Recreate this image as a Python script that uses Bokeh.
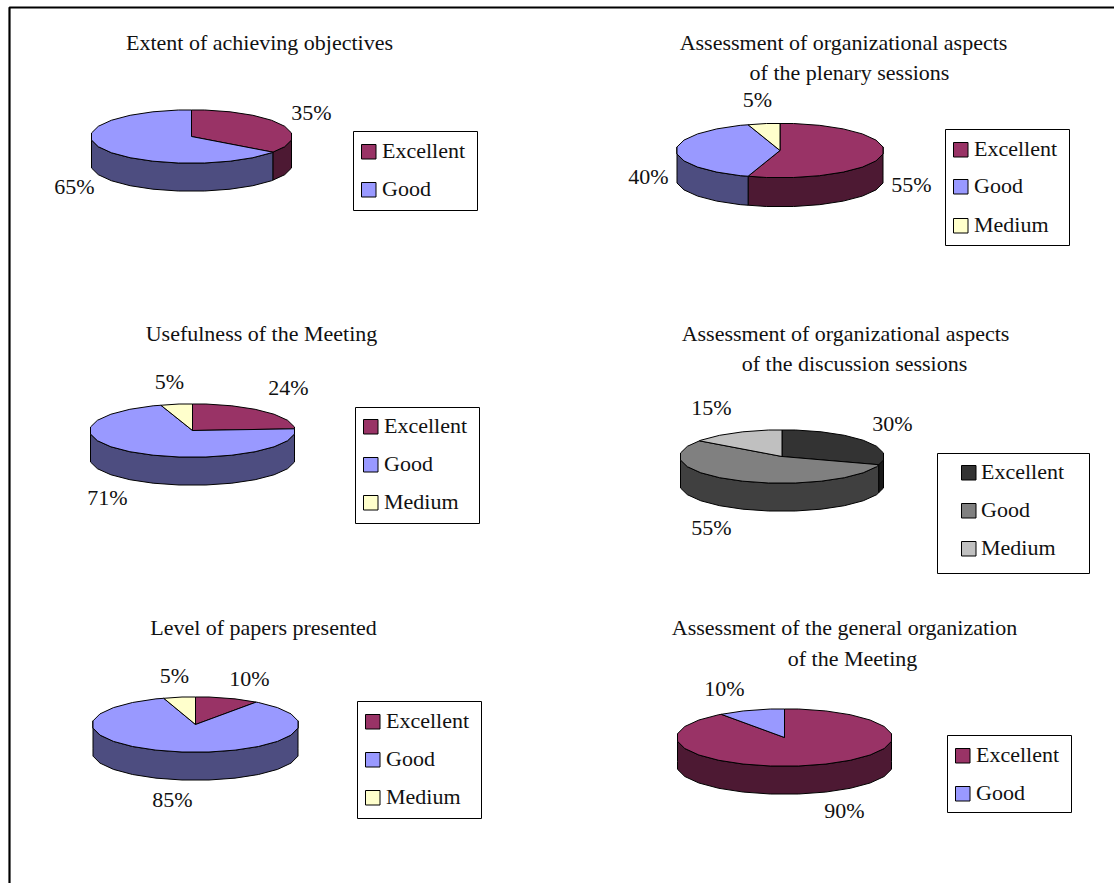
import numpy as np
from bokeh.plotting import figure
from bokeh.models import Range1d
from bokeh.core.properties import value
from bokeh.embed import file_html
from bokeh.resources import INLINE

# ---- data ----
categories = ["Excellent", "Good", "Medium"]
objectives = [35, 65]
plenary = [55, 40, 5]
usefulness = [24, 71, 5]
discussion = [30, 55, 15]
papers = [10, 85, 5]
general = [90, 10]

title_objectives = ["Extent of achieving objectives"]
title_plenary = ["Assessment of organizational aspects", "of the plenary sessions"]
title_usefulness = ["Usefulness of the Meeting"]
title_discussion = ["Assessment of organizational aspects", "of the discussion sessions"]
title_papers = ["Level of papers presented"]
title_general = ["Assessment of the general organization", "of the Meeting"]

# ---- styles ----
COLOR_TOP = ["#993366", "#9999FF", "#FFFFCC"]
COLOR_SIDE = ["#4D1933", "#4D4D80", "#80806A"]
GRAY_TOP = ["#333333", "#808080", "#C0C0C0"]
GRAY_SIDE = ["#1A1A1A", "#404040", "#606060"]
FONT = value("Liberation Serif")
SIZE = value("22px")
TEXT_DY = -1
FACET = 15.0  # the rim is a coarse polygon in the reference

# ---- layout: pie centre/radii/depth, title rows, label anchors, legend box ----
charts = [
    dict(v=objectives, t=title_objectives, top=COLOR_TOP, side=COLOR_SIDE,
         pie=(191, 136, 100, 26.5, 28), tpos=[(259, 43)],
         lab=[(311, 113), (74, 187)],
         box=(353, 131, 477, 210), sw=361, tx=381.5, rows=[151, 189]),
    dict(v=plenary, t=title_plenary, top=COLOR_TOP, side=COLOR_SIDE,
         pie=(779.5, 150, 103, 27, 29), tpos=[(843, 43), (849, 73)],
         lab=[(911, 185), (648, 177), (757, 100)],
         box=(945, 129, 1069, 245), sw=953, tx=973.5, rows=[149, 186, 225]),
    dict(v=usefulness, t=title_usefulness, top=COLOR_TOP, side=COLOR_SIDE,
         pie=(192, 430, 102, 26.5, 28), tpos=[(261, 334)],
         lab=[(288, 388), (107, 498), (169, 382)],
         box=(355, 407, 479, 523), sw=363, tx=383.5, rows=[426, 464, 502]),
    dict(v=discussion, t=title_discussion, top=GRAY_TOP, side=GRAY_SIDE,
         pie=(781.5, 456, 101.5, 26.5, 28), tpos=[(845, 334), (854, 364)],
         lab=[(892, 424), (711, 528), (711, 408)],
         box=(937, 453, 1089, 573), sw=961, tx=980.5, rows=[472, 510, 548]),
    dict(v=papers, t=title_papers, top=COLOR_TOP, side=COLOR_SIDE,
         pie=(195, 724, 102.5, 27.5, 28), tpos=[(263, 628)],
         lab=[(249, 679), (172, 800), (174, 676)],
         box=(357, 701, 481, 818), sw=365, tx=385.5, rows=[721, 759, 797]),
    dict(v=general, t=title_general, top=COLOR_TOP, side=COLOR_SIDE,
         pie=(784, 737, 107, 28.5, 28), tpos=[(844, 628), (852, 659)],
         lab=[(844, 811), (724, 689)],
         box=(947, 735, 1071, 812), sw=955, tx=975.5, rows=[755, 793]),
]

p = figure(width=1114, height=883, output_backend="svg", toolbar_location=None,
           x_range=Range1d(0, 1114), y_range=Range1d(883, 0),
           min_border=0, outline_line_color=None, margin=(0, 0, 0, 0))
p.axis.visible = False
p.grid.visible = False
p.background_fill_color = "white"
p.border_fill_color = "white"

nodes = np.arange(-FACET / 2, 360 + FACET, FACET)
grow = 1 / np.cos(np.radians(FACET / 2))


def arc(cx, cy, rx, ry, a, b):
    """Points along the faceted rim between clockwise angles a and b."""
    inner = nodes[(nodes > a) & (nodes < b)]
    th = np.r_[a, inner, b]
    nx = cx + grow * rx * np.sin(np.radians(nodes))
    ny = cy - grow * ry * np.cos(np.radians(nodes))
    return np.interp(th, nodes, nx), np.interp(th, nodes, ny)


def label(x, y, s, align):
    p.text([x], [y + TEXT_DY], text=[s], text_font=FONT, text_font_size=SIZE,
           text_align=align, text_baseline="middle", text_color="#111111")


for c in charts:
    cx, cy, rx, ry, d = c["pie"]
    edges = np.concatenate([[0], np.cumsum(c["v"]) * 3.6])
    # outer wall: only the front half of the rim shows
    for i in range(len(c["v"])):
        a, b = max(edges[i], 90 - FACET / 2), min(edges[i + 1], 270 + FACET / 2)
        if b > a:
            x, y = arc(cx, cy, rx, ry, a, b)
            p.patch(np.r_[x, x[::-1]], np.r_[y, y[::-1] + d],
                    fill_color=c["side"][i], line_color="black", line_width=1)
    # top face
    for i in range(len(c["v"])):
        x, y = arc(cx, cy, rx, ry, edges[i], edges[i + 1])
        p.patch(np.r_[cx, x], np.r_[cy, y],
                fill_color=c["top"][i], line_color="black", line_width=1)
    for line, (tx, ty) in zip(c["t"], c["tpos"]):
        label(tx, ty, line, "center")
    for val, (lx, ly) in zip(c["v"], c["lab"]):
        label(lx, ly, f"{val}%", "center")
    x0, y0, x1, y1 = c["box"]
    p.quad(left=[x0], right=[x1], top=[y0], bottom=[y1],
           fill_color="white", line_color="black", line_width=1)
    for name, col, row in zip(categories, c["top"], c["rows"]):
        p.quad(left=[c["sw"]], right=[c["sw"] + 14.5], top=[row - 7], bottom=[row + 7.5],
               fill_color=col, line_color="black", line_width=1)
        label(c["tx"], row, name, "left")

# page frame, cut off by the right and bottom edges
p.line([9, 9, 1114], [883, 7, 7], line_color="black", line_width=2.2)

open("out.html", "w").write(file_html(p, INLINE))
